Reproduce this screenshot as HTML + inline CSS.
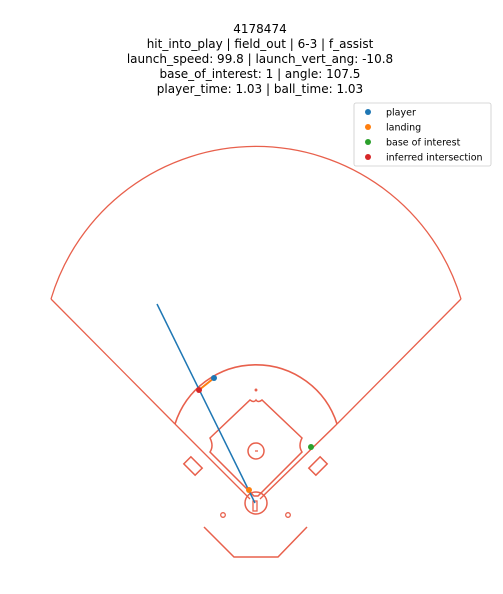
<!DOCTYPE html>
<html><head><meta charset="utf-8"><style>
body{margin:0;background:#fff;width:503px;height:594px;overflow:hidden;font-family:"DejaVu Sans","Liberation Sans",sans-serif}
svg{position:absolute;left:0;top:0}
</style></head><body>
<svg width="503" height="594">
<g font-size="12" text-anchor="middle" fill="#000">
<text x="260" y="33">4178474</text>
<text x="260" y="48">hit_into_play | field_out | 6-3 | f_assist</text>
<text x="260" y="63">launch_speed: 99.8 | launch_vert_ang: -10.8</text>
<text x="260" y="78">base_of_interest: 1 | angle: 107.5</text>
<text x="260" y="93">player_time: 1.03 | ball_time: 1.03</text>
</g>
<g fill="none" stroke="#e8604c" stroke-width="1.3">
<path d="M51,299 A214,214 0 0 1 461,299"/>
<line x1="51" y1="299" x2="175" y2="424"/>
<line x1="461" y1="299" x2="337" y2="424"/>
<path d="M175,424 A85,85 0 0 1 337,424" stroke-width="1.6"/>
<path d="M175,424 L180,429 L248,497 M180,429 L250,499 M337,424 L332,429 L262,497 M332,429 L260,499 M175,424 L247,496 M337,424 L263,496" stroke-width="1.3"/>
<path d="M256,400 Q258,403 262,400 L302,438 Q298,446 302,452 L258,496 L254,496 L210,452 Q214,446 210,438 L250,400 Q254,403 256,400Z" stroke-width="1.5"/>
<circle cx="256" cy="451" r="8" stroke-width="1.5"/>
<line x1="255" y1="451" x2="258" y2="451"/>
<circle cx="256" cy="503" r="11" stroke-width="1.5"/>
<rect x="253" y="501" width="4" height="10"/>
<circle cx="223" cy="515" r="2.3"/><circle cx="288" cy="515" r="2.3"/>
<circle cx="256" cy="390" r="0.8"/>
<rect x="-8" y="-5" width="16" height="10" transform="translate(193,466) rotate(45)" stroke-width="1.5"/>
<rect x="-8" y="-5" width="16" height="10" transform="translate(318,466) rotate(-45)" stroke-width="1.5"/>
<polyline points="204,527 234,557 278,557 307,527" stroke-width="1.5"/>
</g>
<g id="marks"></g>
<g>
<rect x="354" y="103" width="137" height="63" rx="2" fill="#fff" stroke="#ccc" stroke-width="0.8"/>
<g font-size="9.5" fill="#000">
<circle cx="368" cy="112" r="3" fill="#1f77b4"/><text x="386" y="115.5">player</text>
<circle cx="368" cy="127" r="3" fill="#ff7f0e"/><text x="386" y="130.5">landing</text>
<circle cx="368" cy="142" r="3" fill="#2ca02c"/><text x="386" y="145.5">base of interest</text>
<circle cx="368" cy="157" r="3" fill="#d62728"/><text x="386" y="160.5">inferred intersection</text>
</g></g>
</svg>
<script>
// data coords: origin home plate, y up (units ~ pixels)
const rayX = [0, -98];
const rayY = [0, 199];
const segX = [-56, -41];
const segY = [113, 125];
const pointNames = ["player","landing","base-of-interest","inferred-intersection"];
const pointX = [-41, -6, 56, -56];
const pointY = [125, 13, 56, 113];
const pointColors = ["#1f77b4","#ff7f0e","#2ca02c","#d62728"];
function sx(v){return 255+v;}
function sy(v){return 503-v;}
const ns="http://www.w3.org/2000/svg", g=document.getElementById('marks');
const ray=document.createElementNS(ns,'line');
ray.setAttribute('x1',sx(rayX[0]));ray.setAttribute('y1',sy(rayY[0]));
ray.setAttribute('x2',sx(rayX[1]));ray.setAttribute('y2',sy(rayY[1]));
ray.setAttribute('stroke','#1f77b4');ray.setAttribute('stroke-width','1.5');


g.appendChild(ray);
const seg=document.createElementNS(ns,'line');
seg.setAttribute('x1',sx(segX[0]));seg.setAttribute('y1',sy(segY[0]));
seg.setAttribute('x2',sx(segX[1]));seg.setAttribute('y2',sy(segY[1]));
seg.setAttribute('stroke','#ff7f0e');seg.setAttribute('stroke-width','2');


g.appendChild(seg);
pointX.forEach((x,i)=>{
 const c=document.createElementNS(ns,'circle');
 c.setAttribute('cx',sx(x));c.setAttribute('cy',sy(pointY[i]));c.setAttribute('r',3);
 c.setAttribute('fill',pointColors[i]);
 
 
 g.appendChild(c);
});
</script>
</body></html>
